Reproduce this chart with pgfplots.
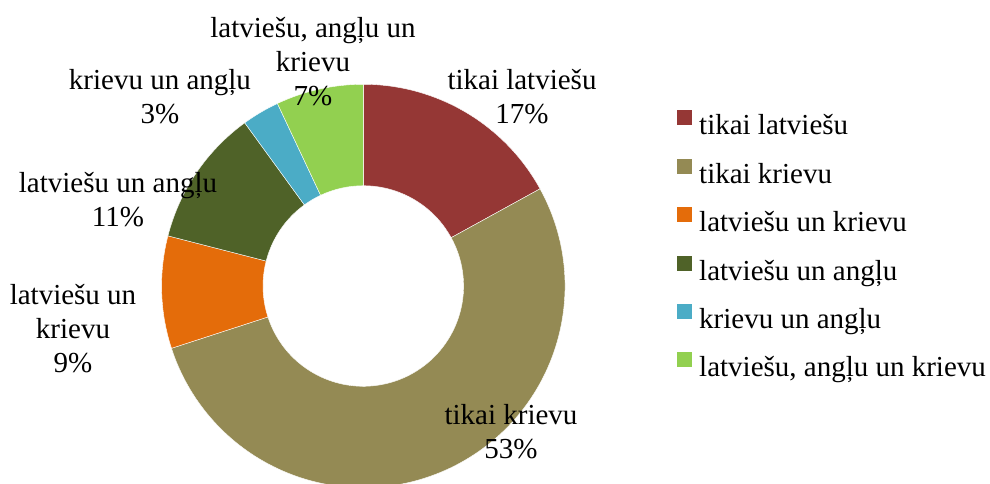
\documentclass[border=0pt]{standalone}
\usepackage{fontspec}
\setmainfont{Liberation Serif}
\usepackage{pgfplots}
\pgfplotsset{compat=1.18}
\definecolor{cLat}{HTML}{953735}
\definecolor{cRus}{HTML}{948A54}
\definecolor{cLatRus}{HTML}{E46C0A}
\definecolor{cLatEng}{HTML}{4F6228}
\definecolor{cRusEng}{HTML}{4BACC6}
\definecolor{cAll}{HTML}{92D050}
\newcommand\lblfont{\fontsize{14.5pt}{17pt}\selectfont}
\begin{document}
\begin{tikzpicture}
  \begin{axis}[x=0.5pt, y=0.5pt, xmin=0, xmax=990, ymin=0, ymax=483,
      hide axis, clip=true,
      legend image code/.code={\fill[#1] (0pt,1.5pt) rectangle (7pt,8.5pt);},
      legend cell align=left,
      legend style={draw=none, fill=none, at={(axis cs:677,373)}, anchor=north west,
        inner sep=0pt, row sep=9pt,
        nodes={inner sep=0pt, font=\lblfont, text height=10pt, text depth=3pt},
        /tikz/every odd column/.append style={column sep=3.5pt}},
    ]
    \addlegendimage{cLat}\addlegendentry{tikai latviešu}
    \addlegendimage{cRus}\addlegendentry{tikai krievu}
    \addlegendimage{cLatRus}\addlegendentry{latviešu un krievu}
    \addlegendimage{cLatEng}\addlegendentry{latviešu un angļu}
    \addlegendimage{cRusEng}\addlegendentry{krievu un angļu}
    \addlegendimage{cAll}\addlegendentry{latviešu, angļu un krievu}
    % donut: shares in percent, clockwise from the top
    \pgfplotsextra{
      \gdef\angstart{90}
      \foreach \v/\c in {17/cLat,53/cRus,9/cLatRus,11/cLatEng,3/cRusEng,7/cAll}{
        \pgfmathsetmacro\angend{\angstart-3.6*\v}
        \fill[\c, draw=white, line width=0.2pt, shift={(axis cs:363.3,197)}]
          (\angstart:100.85pt) arc[start angle=\angstart, end angle=\angend, radius=100.85pt]
          -- (\angend:50.15pt) arc[start angle=\angend, end angle=\angstart, radius=50.15pt]
          -- cycle;
        \xdef\angstart{\angend}
      }
    }
    \node[align=center, font=\lblfont, inner sep=0pt] at (axis cs:313,421) {latviešu, angļu un\\krievu\\7\%};
    \node[align=center, font=\lblfont, inner sep=0pt] at (axis cs:160,386.5) {krievu un angļu\\3\%};
    \node[align=center, font=\lblfont, inner sep=0pt] at (axis cs:522,386.5) {tikai latviešu\\17\%};
    \node[align=center, font=\lblfont, inner sep=0pt] at (axis cs:118,283.5) {latviešu un angļu\\11\%};
    \node[align=center, font=\lblfont, inner sep=0pt] at (axis cs:73,154) {latviešu un\\krievu\\9\%};
    \node[align=center, font=\lblfont, inner sep=0pt] at (axis cs:511,51) {tikai krievu\\53\%};
  \end{axis}
  \pgfresetboundingbox
  \path[use as bounding box] (current axis.south west) rectangle (current axis.north east);
\end{tikzpicture}
\end{document}
